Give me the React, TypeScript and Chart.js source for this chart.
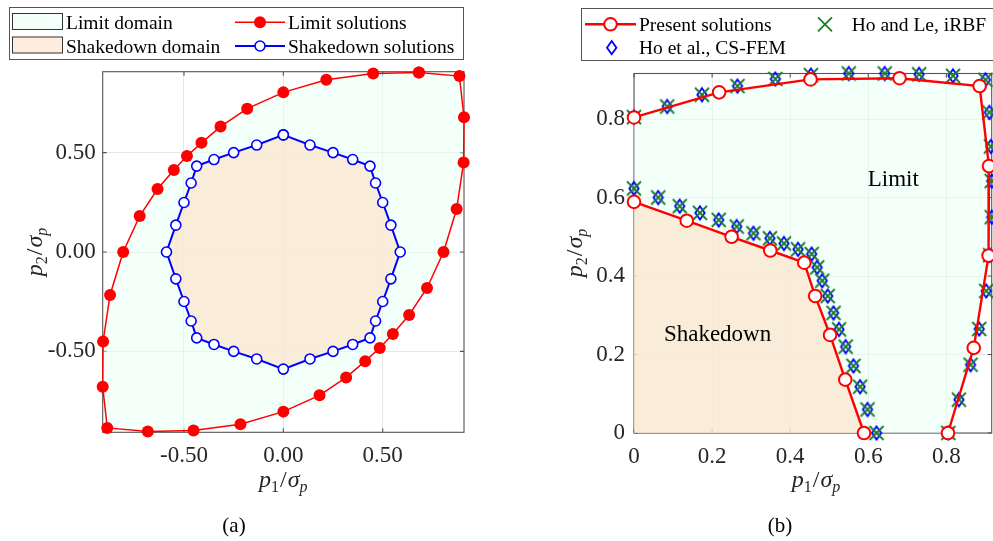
import { useEffect, useRef } from 'react';
import { Chart, registerables } from 'chart.js';

Chart.register(...registerables);

const FONT = '"Liberation Serif", "Times New Roman", Times, serif';
const RED = '#ff0000';
const BLUE = '#0000ff';
const GREEN = '#1a7d2a';
const AXIS_COLOR = '#555555';
const TEXT_COLOR = '#262626';
const GRID_COLOR = 'rgba(0,0,0,0.09)';
const MINT = 'rgba(231,255,243,0.5)';
const PEACH = 'rgba(254,227,201,0.65)';

// ---------- Panel (a) data ----------
const ticksA = [-0.5, 0, 0.5];
const limitAP1 = [0.682, 0.452, 0.216, 0.0, -0.182, -0.316, -0.412, -0.485, -0.551, -0.633, -0.723, -0.806, -0.872, -0.907, -0.909, -0.886, -0.682, -0.452, -0.216, 0.0, 0.182, 0.316, 0.412, 0.485, 0.551, 0.633, 0.723, 0.806, 0.872, 0.907, 0.909, 0.886];
const limitAP2 = [0.903, 0.898, 0.866, 0.803, 0.721, 0.631, 0.549, 0.483, 0.413, 0.317, 0.181, 0.0, -0.216, -0.45, -0.678, -0.885, -0.903, -0.898, -0.866, -0.803, -0.721, -0.631, -0.549, -0.483, -0.413, -0.317, -0.181, 0.0, 0.216, 0.45, 0.678, 0.885];
const shakeAP1 = [0, 0.134, 0.25, 0.349, 0.436, 0.464, 0.5, 0.541, 0.588, 0.541, 0.5, 0.464, 0.436, 0.349, 0.25, 0.134, 0, -0.134, -0.25, -0.349, -0.436, -0.464, -0.5, -0.541, -0.588, -0.541, -0.5, -0.464, -0.436, -0.349, -0.25, -0.134];
const shakeAP2 = [0.589, 0.538, 0.5, 0.465, 0.432, 0.347, 0.249, 0.135, 0, -0.135, -0.249, -0.347, -0.432, -0.465, -0.5, -0.538, -0.589, -0.538, -0.5, -0.465, -0.432, -0.347, -0.249, -0.135, 0, 0.135, 0.249, 0.347, 0.432, 0.465, 0.5, 0.538];

// ---------- Panel (b) data ----------
const ticksB = [0, 0.2, 0.4, 0.6, 0.8];
const presentLimitP1 = [0, 0.218, 0.452, 0.68, 0.885, 0.909, 0.908, 0.87, 0.804];
const presentLimitP2 = [0.804, 0.868, 0.901, 0.904, 0.884, 0.68, 0.452, 0.217, 0];
const presentShakeP1 = [0, 0.135, 0.25, 0.349, 0.436, 0.464, 0.502, 0.541, 0.589];
const presentShakeP2 = [0.589, 0.541, 0.5, 0.465, 0.434, 0.349, 0.25, 0.136, 0];
const csfemLimitP1 = [0, 0.085, 0.174, 0.265, 0.362, 0.453, 0.55, 0.642, 0.73, 0.817, 0.9, 0.91, 0.914, 0.916, 0.916, 0.912, 0.902, 0.884, 0.862, 0.832, 0.805];
const csfemLimitP2 = [0.805, 0.832, 0.862, 0.884, 0.902, 0.912, 0.916, 0.916, 0.914, 0.91, 0.9, 0.817, 0.73, 0.642, 0.55, 0.453, 0.362, 0.265, 0.174, 0.085, 0];
const csfemShakeP1 = [0, 0.062, 0.117, 0.169, 0.217, 0.263, 0.306, 0.348, 0.384, 0.42, 0.455, 0.469, 0.482, 0.496, 0.511, 0.525, 0.542, 0.562, 0.579, 0.598, 0.621];
const csfemShakeP2 = [0.623, 0.6, 0.578, 0.561, 0.543, 0.526, 0.509, 0.496, 0.483, 0.468, 0.456, 0.422, 0.388, 0.349, 0.306, 0.264, 0.22, 0.171, 0.118, 0.06, 0];
const irbfLimitP1 = [0, 0.085, 0.174, 0.265, 0.362, 0.453, 0.55, 0.642, 0.73, 0.817, 0.9, 0.91, 0.914, 0.916, 0.916, 0.912, 0.902, 0.884, 0.862, 0.832, 0.805];
const irbfLimitP2 = [0.805, 0.832, 0.862, 0.884, 0.902, 0.912, 0.916, 0.916, 0.914, 0.91, 0.9, 0.817, 0.73, 0.642, 0.55, 0.453, 0.362, 0.265, 0.174, 0.085, 0];
const irbfShakeP1 = [0, 0.062, 0.117, 0.169, 0.217, 0.263, 0.306, 0.348, 0.384, 0.42, 0.455, 0.469, 0.482, 0.496, 0.511, 0.525, 0.542, 0.562, 0.579, 0.598, 0.621];
const irbfShakeP2 = [0.623, 0.6, 0.578, 0.561, 0.543, 0.526, 0.509, 0.496, 0.483, 0.468, 0.456, 0.422, 0.388, 0.349, 0.306, 0.264, 0.22, 0.171, 0.118, 0.06, 0];

type Pt = { x: number; y: number };
const pts = (xs: number[], ys: number[]): Pt[] => xs.map((x, i) => ({ x, y: ys[i] }));
const closed = (p: Pt[]): Pt[] => [...p, p[0]];
const withOrigin = (p: Pt[]): Pt[] => [...p, { x: 0, y: 0 }];

function drawDiamond(ctx: CanvasRenderingContext2D, x: number, y: number) {
  ctx.beginPath();
  ctx.moveTo(x, y - 6.6);
  ctx.lineTo(x + 4.7, y);
  ctx.lineTo(x, y + 6.6);
  ctx.lineTo(x - 4.7, y);
  ctx.closePath();
  ctx.strokeStyle = BLUE;
  ctx.lineWidth = 1.8;
  ctx.stroke();
}

function drawCross(ctx: CanvasRenderingContext2D, x: number, y: number) {
  const d = 7;
  ctx.beginPath();
  ctx.moveTo(x - d, y - d);
  ctx.lineTo(x + d, y + d);
  ctx.moveTo(x + d, y - d);
  ctx.lineTo(x - d, y + d);
  ctx.strokeStyle = GREEN;
  ctx.lineWidth = 1.8;
  ctx.stroke();
}

function makeMarker(kind: 'diamond' | 'cross'): HTMLCanvasElement {
  const c = document.createElement('canvas');
  c.width = 18;
  c.height = 18;
  const ctx = c.getContext('2d') as CanvasRenderingContext2D;
  if (kind === 'diamond') drawDiamond(ctx, 9, 9);
  else drawCross(ctx, 9, 9);
  return c;
}

function drawMath(ctx: CanvasRenderingContext2D, cx: number, base: number, sub: string, vertical: boolean) {
  const big = 24;
  const small = 16;
  const parts = [
    { t: 'p', f: `italic ${big}px ${FONT}`, dy: 0, gap: 0 },
    { t: sub, f: `${small}px ${FONT}`, dy: 5, gap: 1 },
    { t: '/', f: `${big}px ${FONT}`, dy: 0, gap: 1 },
    { t: 'σ', f: `italic ${big}px ${FONT}`, dy: 0, gap: 0 },
    { t: 'p', f: `italic ${small}px ${FONT}`, dy: 5, gap: 0 },
  ];
  ctx.save();
  let total = 0;
  const ws = parts.map((p) => {
    ctx.font = p.f;
    const w = ctx.measureText(p.t).width + p.gap;
    total += w;
    return w;
  });
  ctx.translate(vertical ? base : cx, vertical ? cx : base);
  if (vertical) ctx.rotate(-Math.PI / 2);
  ctx.fillStyle = TEXT_COLOR;
  ctx.textBaseline = 'alphabetic';
  ctx.textAlign = 'left';
  let x = -total / 2;
  parts.forEach((p, i) => {
    ctx.font = p.f;
    ctx.fillText(p.t, x, p.dy);
    x += ws[i];
  });
  ctx.restore();
}

function framePlugin(xt: number[], yt: number[]) {
  return {
    id: 'frame',
    beforeDatasetsDraw(chart: any) {
      const { ctx, chartArea: a, scales } = chart;
      ctx.save();
      ctx.strokeStyle = AXIS_COLOR;
      ctx.lineWidth = 1.1;
      ctx.strokeRect(a.left, a.top, a.right - a.left, a.bottom - a.top);
      const L = 4;
      ctx.beginPath();
      for (const v of xt) {
        const px = scales.x.getPixelForValue(v);
        ctx.moveTo(px, a.bottom);
        ctx.lineTo(px, a.bottom - L);
        ctx.moveTo(px, a.top);
        ctx.lineTo(px, a.top + L);
      }
      for (const v of yt) {
        const py = scales.y.getPixelForValue(v);
        ctx.moveTo(a.left, py);
        ctx.lineTo(a.left + L, py);
        ctx.moveTo(a.right, py);
        ctx.lineTo(a.right - L, py);
      }
      ctx.stroke();
      ctx.restore();
    },
  };
}

function circle(ctx: CanvasRenderingContext2D, x: number, y: number, r: number, fill: string, stroke: string, lw: number) {
  ctx.beginPath();
  ctx.arc(x, y, r, 0, Math.PI * 2);
  ctx.fillStyle = fill;
  ctx.fill();
  if (lw > 0) {
    ctx.lineWidth = lw;
    ctx.strokeStyle = stroke;
    ctx.stroke();
  }
}

const annotA = {
  id: 'annotA',
  afterDraw(chart: any) {
    const ctx: CanvasRenderingContext2D = chart.ctx;
    ctx.save();
    ctx.fillStyle = '#fff';
    ctx.fillRect(9, 7, 454, 52);
    ctx.strokeStyle = AXIS_COLOR;
    ctx.lineWidth = 1;
    ctx.strokeRect(9.5, 7.5, 454, 52);
    ctx.fillStyle = MINT;
    ctx.fillRect(12.5, 13.5, 50, 16);
    ctx.strokeStyle = '#333';
    ctx.strokeRect(12.5, 13.5, 50, 16);
    ctx.fillStyle = PEACH;
    ctx.fillRect(12.5, 37, 50, 16);
    ctx.strokeRect(12.5, 37, 50, 16);
    ctx.lineWidth = 1.5;
    ctx.strokeStyle = RED;
    ctx.beginPath();
    ctx.moveTo(235, 22.3);
    ctx.lineTo(285, 22.3);
    ctx.stroke();
    circle(ctx, 260, 22.3, 6, RED, RED, 0);
    ctx.lineWidth = 2;
    ctx.strokeStyle = BLUE;
    ctx.beginPath();
    ctx.moveTo(235, 46);
    ctx.lineTo(285, 46);
    ctx.stroke();
    circle(ctx, 260, 46, 5, '#fff', BLUE, 1.6);
    ctx.fillStyle = '#000';
    ctx.font = `19.5px ${FONT}`;
    ctx.textBaseline = 'alphabetic';
    ctx.textAlign = 'left';
    ctx.fillText('Limit domain', 66, 29.3);
    ctx.fillText('Shakedown domain', 66, 52.7);
    ctx.fillText('Limit solutions', 288, 29.3);
    ctx.fillText('Shakedown solutions', 288, 52.7);
    drawMath(ctx, 283.3, 487, '1', false);
    drawMath(ctx, 252, 42, '2', true);
    ctx.fillStyle = '#000';
    ctx.font = `21px ${FONT}`;
    ctx.textAlign = 'center';
    ctx.fillText('(a)', 234, 531.5);
    ctx.restore();
  },
};

const OX = 520;
const annotB = {
  id: 'annotB',
  afterDraw(chart: any) {
    const ctx: CanvasRenderingContext2D = chart.ctx;
    const { scales } = chart;
    ctx.save();
    ctx.fillStyle = '#000';
    ctx.font = `23px ${FONT}`;
    ctx.textAlign = 'center';
    ctx.textBaseline = 'middle';
    ctx.fillText('Limit', scales.x.getPixelForValue(0.664), scales.y.getPixelForValue(0.645));
    ctx.fillText('Shakedown', scales.x.getPixelForValue(0.214), scales.y.getPixelForValue(0.25));
    ctx.fillStyle = '#fff';
    ctx.fillRect(581 - OX, 8, 500, 53);
    ctx.strokeStyle = AXIS_COLOR;
    ctx.lineWidth = 1;
    ctx.strokeRect(581.5 - OX, 8.5, 500, 52);
    ctx.lineWidth = 2.4;
    ctx.strokeStyle = RED;
    ctx.beginPath();
    ctx.moveTo(585 - OX, 24.3);
    ctx.lineTo(636 - OX, 24.3);
    ctx.stroke();
    circle(ctx, 610.5 - OX, 24.3, 6.3, '#fff', RED, 2);
    drawCross(ctx, 825 - OX, 24.3);
    drawDiamond(ctx, 611.7 - OX, 47.7);
    ctx.fillStyle = '#000';
    ctx.font = `19.5px ${FONT}`;
    ctx.textBaseline = 'alphabetic';
    ctx.textAlign = 'left';
    ctx.fillText('Present solutions', 639 - OX, 30.7);
    ctx.fillText('Ho and Le, iRBF', 851.7 - OX, 30.7);
    ctx.fillText('Ho et al., CS-FEM', 639 - OX, 54);
    drawMath(ctx, 816 - OX, 487, '1', false);
    drawMath(ctx, 253, 582 - OX, '2', true);
    ctx.fillStyle = '#000';
    ctx.font = `21px ${FONT}`;
    ctx.textAlign = 'center';
    ctx.fillText('(b)', 780 - OX, 531.5);
    ctx.restore();
  },
};

function scalesFor(min: number, max: number, ymin: number, ymax: number, ticks: number[], fmt: (v: number) => string, yW: number, yPad: number) {
  const common = {
    type: 'linear',
    afterBuildTicks: (s: any) => {
      s.ticks = ticks.map((v) => ({ value: v }));
    },
    grid: { color: GRID_COLOR, drawTicks: false, lineWidth: 1 },
    border: { display: false },
  };
  return {
    x: {
      ...common,
      min,
      max,
      afterFit: (s: any) => {
        s.height = 60;
      },
      ticks: {
        callback: (v: any) => fmt(Number(v)),
        font: { family: FONT, size: 23 },
        color: TEXT_COLOR,
        padding: 10,
        maxRotation: 0,
        minRotation: 0,
        autoSkip: false,
      },
    },
    y: {
      ...common,
      min: ymin,
      max: ymax,
      afterFit: (s: any) => {
        s.width = yW;
      },
      ticks: {
        callback: (v: any) => fmt(Number(v)),
        font: { family: FONT, size: 23 },
        color: TEXT_COLOR,
        padding: yPad,
        autoSkip: false,
      },
    },
  };
}

const baseOpts = {
  responsive: false,
  maintainAspectRatio: false,
  animation: false,
  devicePixelRatio: 1,
  events: [],
  plugins: { legend: { display: false }, tooltip: { enabled: false } },
  elements: { line: { tension: 0 } },
};

export default function App() {
  const refA = useRef<HTMLCanvasElement>(null);
  const refB = useRef<HTMLCanvasElement>(null);

  useEffect(() => {
    const limitA = pts(limitAP1, limitAP2);
    const shakeA = pts(shakeAP1, shakeAP2);
    const chartA = new Chart(refA.current as HTMLCanvasElement, {
      type: 'line',
      data: {
        datasets: [
          { data: closed(limitA), borderColor: RED, borderWidth: 1.5, pointRadius: 6, pointBackgroundColor: RED, pointBorderColor: RED, pointBorderWidth: 0, fill: false, order: 0, clip: false },
          { data: closed(shakeA), borderColor: BLUE, borderWidth: 2, pointRadius: 5, pointBackgroundColor: '#fff', pointBorderColor: BLUE, pointBorderWidth: 1.6, fill: false, order: 1, clip: false },
          { data: closed(shakeA), borderColor: 'transparent', borderWidth: 1, pointRadius: 0, backgroundColor: PEACH, fill: 'shape', order: 2 },
          { data: closed(limitA), borderColor: 'transparent', borderWidth: 1, pointRadius: 0, backgroundColor: MINT, fill: 'shape', order: 3 },
        ],
      },
      options: {
        ...baseOpts,
        layout: { padding: { left: 0, right: 16, top: 71.7, bottom: 48.7 } },
        scales: scalesFor(-0.909, 0.909, -0.907, 0.907, ticksA, (v) => v.toFixed(2), 102.7, 7),
      } as any,
      plugins: [framePlugin(ticksA, ticksA), annotA],
    } as any);

    const diamondImg = makeMarker('diamond');
    const crossImg = makeMarker('cross');
    const pLimit = pts(presentLimitP1, presentLimitP2);
    const pShake = pts(presentShakeP1, presentShakeP2);
    const markerCommon = { showLine: false, fill: false, clip: false, borderWidth: 0, pointRadius: 8 };
    const chartB = new Chart(refB.current as HTMLCanvasElement, {
      type: 'line',
      data: {
        datasets: [
          { data: pLimit, borderColor: RED, borderWidth: 2.4, pointRadius: 6.3, pointBackgroundColor: '#fff', pointBorderColor: RED, pointBorderWidth: 2, fill: false, order: 0, clip: false },
          { data: pShake, borderColor: RED, borderWidth: 2.4, pointRadius: 6.3, pointBackgroundColor: '#fff', pointBorderColor: RED, pointBorderWidth: 2, fill: false, order: 1, clip: false },
          { ...markerCommon, data: pts(irbfLimitP1, irbfLimitP2), pointStyle: crossImg, order: 2 },
          { ...markerCommon, data: pts(irbfShakeP1, irbfShakeP2), pointStyle: crossImg, order: 3 },
          { ...markerCommon, data: pts(csfemLimitP1, csfemLimitP2), pointStyle: diamondImg, order: 4 },
          { ...markerCommon, data: pts(csfemShakeP1, csfemShakeP2), pointStyle: diamondImg, order: 5 },
          { data: withOrigin(pShake), borderColor: 'transparent', borderWidth: 1, pointRadius: 0, backgroundColor: PEACH, fill: 'shape', order: 6 },
          { data: withOrigin(pLimit), borderColor: 'transparent', borderWidth: 1, pointRadius: 0, backgroundColor: MINT, fill: 'shape', order: 7 },
        ],
      },
      options: {
        ...baseOpts,
        layout: { padding: { left: 0, right: 5.7, top: 73.5, bottom: 48 } },
        scales: scalesFor(0, 0.916, 0, 0.916, ticksB, (v) => (v === 0 ? '0' : String(v)), 114, 9),
      } as any,
      plugins: [framePlugin(ticksB, ticksB), annotB],
    } as any);

    return () => {
      chartA.destroy();
      chartB.destroy();
    };
  }, []);

  return (
    <div style={{ position: 'fixed', left: 0, top: 0, width: 993, height: 541, overflow: 'hidden', background: '#fff' }}>
      <canvas ref={refA} width={480} height={541} style={{ position: 'absolute', left: 0, top: 0, width: 480, height: 541 }} />
      <canvas ref={refB} width={480} height={541} style={{ position: 'absolute', left: 520, top: 0, width: 480, height: 541 }} />
    </div>
  );
}
